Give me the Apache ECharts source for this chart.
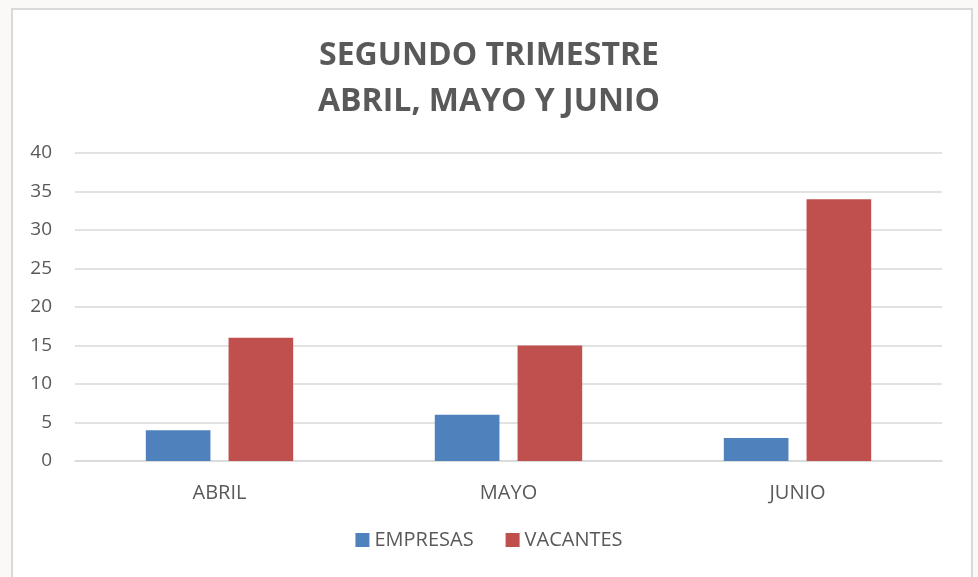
<!DOCTYPE html>
<html>
<head>
<meta charset="utf-8">
<script src="https://cdn.jsdelivr.net/npm/echarts@6/dist/echarts.min.js"></script>
<style>
  html, body { margin: 0; padding: 0; background: #fbf9f7; overflow: hidden; }
  #frame { position: absolute; left: 11px; top: 8px; width: 958px; height: 600px;
           border: 2px solid #d9d9d9; background: #fff; }
  #container { position: absolute; left: 0; top: 0; width: 978px; height: 577px; }
</style>
</head>
<body>
<div id="frame"></div>
<div id="container"></div>
<script>
var meses = ['ABRIL', 'MAYO', 'JUNIO'];
var empresas = [4, 6, 3];
var vacantes = [16, 15, 34];

var myChart = echarts.init(document.getElementById('container'));

var textColor = '#595959';
var font = 'Open Sans';

var options = {
  backgroundColor: 'transparent',
  title: {
    text: 'SEGUNDO TRIMESTRE\nABRIL, MAYO Y JUNIO',
    left: 'center',
    top: 28,
    textStyle: {
      color: textColor,
      fontFamily: font,
      fontWeight: 'bold',
      fontSize: 32,
      lineHeight: 46
    }
  },
  legend: {
    bottom: 22,
    left: 'center',
    itemWidth: 14,
    itemHeight: 14,
    itemGap: 32,
    icon: 'rect',
    textStyle: { color: textColor, fontFamily: font, fontSize: 20 },
    data: ['EMPRESAS', 'VACANTES']
  },
  grid: { left: 75, right: 36, top: 153, bottom: 116 },
  xAxis: {
    type: 'category',
    data: meses,
    axisLine: { lineStyle: { color: '#d9d9d9', width: 1.5 } },
    axisTick: { show: false },
    axisLabel: { color: textColor, fontFamily: font, fontSize: 20, margin: 22 }
  },
  yAxis: {
    type: 'value',
    min: 0,
    max: 40,
    interval: 5,
    axisLine: { show: false },
    axisTick: { show: false },
    axisLabel: { color: textColor, fontFamily: font, fontSize: 19, margin: 23 },
    splitLine: { lineStyle: { color: '#d9d9d9', width: 1.5 } }
  },
  series: [{
    name: 'EMPRESAS',
    type: 'bar',
    data: empresas,
    barGap: '28%',
    barCategoryGap: '49%',
    itemStyle: { color: '#4f81bd' }
  }, {
    name: 'VACANTES',
    type: 'bar',
    data: vacantes,
    itemStyle: { color: '#c0504d' }
  }]
};

myChart.setOption(options);
</script>
</body>
</html>
